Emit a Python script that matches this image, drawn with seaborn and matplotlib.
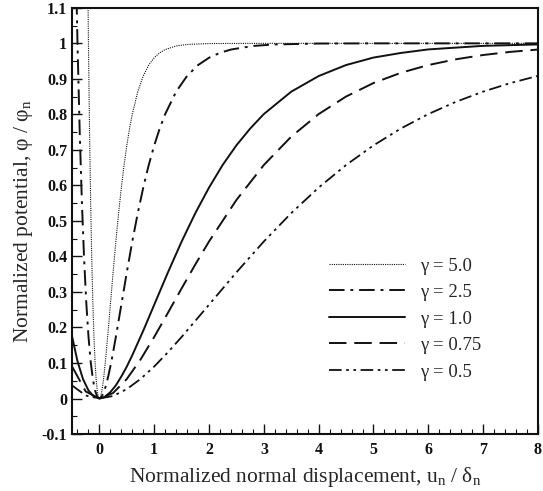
import numpy as np
import pandas as pd
import matplotlib
matplotlib.use("Agg")
import matplotlib.pyplot as plt
from matplotlib.ticker import MultipleLocator, FuncFormatter
import seaborn as sns

# ---- data ----
x_g50 = [-0.3, -0.25, -0.225, -0.2, -0.18, -0.16, -0.14, -0.12, -0.1, -0.08, -0.06, -0.04, -0.02, 0,
         0.02, 0.04, 0.06, 0.08, 0.1, 0.12, 0.15, 0.2, 0.25, 0.3, 0.35, 0.4, 0.45, 0.5, 0.55, 0.6,
         0.7, 0.8, 0.9, 1.0, 1.1, 1.2, 1.4, 1.6, 2.0, 3.0, 8.0]
y_g50 = [3.24, 1.873, 1.385, 1.0, 0.754, 0.555, 0.396, 0.271, 0.176, 0.105, 0.055, 0.023, 0.005, 0,
         0.0047, 0.0175, 0.0369, 0.0615, 0.0902, 0.1219, 0.1734, 0.2642, 0.3554, 0.4422, 0.5221, 0.594,
         0.6575, 0.7127, 0.7603, 0.8009, 0.8641, 0.9084, 0.9389, 0.9596, 0.9734, 0.9826, 0.9927, 0.997,
         0.9995, 1.0, 1.0]

x_g25 = [-0.5, -0.45, -0.4, -0.36, -0.32, -0.28, -0.24, -0.2, -0.16, -0.12, -0.08, -0.04, 0,
         0.04, 0.08, 0.12, 0.16, 0.2, 0.24, 0.3, 0.4, 0.5, 0.6, 0.7, 0.8, 0.9, 1.0, 1.1, 1.2,
         1.4, 1.6, 1.8, 2.0, 2.2, 2.4, 2.8, 3.2, 4.0, 5.0, 6.0, 8.0]
y_g25 = [1.873, 1.385, 1.0, 0.754, 0.555, 0.396, 0.271, 0.176, 0.105, 0.055, 0.023, 0.005, 0,
         0.0047, 0.0175, 0.0369, 0.0615, 0.0902, 0.1219, 0.1734, 0.2642, 0.3554, 0.4422, 0.5221,
         0.594, 0.6575, 0.7127, 0.7603, 0.8009, 0.8641, 0.9084, 0.9389, 0.9596, 0.9734, 0.9826,
         0.9927, 0.997, 0.9995, 1.0, 1.0, 1.0]

x_g10 = [-0.5, -0.4, -0.3, -0.2, -0.1, 0, 0.1, 0.2, 0.3, 0.4, 0.5, 0.6, 0.8, 1.0, 1.25, 1.5,
         1.75, 2.0, 2.25, 2.5, 2.75, 3.0, 3.5, 4.0, 4.5, 5.0, 5.5, 6.0, 7.0, 8.0]
y_g10 = [0.176, 0.105, 0.055, 0.023, 0.005, 0, 0.005, 0.018, 0.037, 0.062, 0.090, 0.122, 0.191,
         0.264, 0.355, 0.442, 0.522, 0.594, 0.658, 0.713, 0.760, 0.801, 0.864, 0.908, 0.939,
         0.960, 0.973, 0.983, 0.993, 0.997]

x_g075 = [-0.5, -0.25, 0, 0.25, 0.5, 0.75, 1.0, 1.25, 1.5, 1.75, 2.0, 2.5, 3.0, 3.5, 4.0, 4.5,
          5.0, 5.5, 6.0, 6.5, 7.0, 7.5, 8.0]
y_g075 = [0.0906, 0.0199, 0, 0.0155, 0.0550, 0.1097, 0.1734, 0.2413, 0.3101, 0.3776, 0.4422,
          0.5591, 0.6575, 0.7374, 0.8009, 0.8503, 0.8883, 0.9172, 0.9389, 0.9551, 0.9672,
          0.9761, 0.9826]

x_g05 = [-0.5, -0.25, 0, 0.25, 0.5, 0.75, 1.0, 1.25, 1.5, 2.0, 2.5, 3.0, 3.5, 4.0, 4.5, 5.0,
         5.5, 6.0, 6.5, 7.0, 7.5, 8.0]
y_g05 = [0.037, 0.0085, 0, 0.0072, 0.0265, 0.0550, 0.0902, 0.1302, 0.1734, 0.2642, 0.3554,
         0.4422, 0.5221, 0.5940, 0.6575, 0.7127, 0.7603, 0.8009, 0.8352, 0.8641, 0.8883, 0.9084]

labels = ["γ = 5.0", "γ = 2.5", "γ = 1.0", "γ = 0.75", "γ = 0.5"]
xs = [x_g50, x_g25, x_g10, x_g075, x_g05]
ys = [y_g50, y_g25, y_g10, y_g075, y_g05]

# ---- styling ----
sns.set_theme(style="ticks")
plt.rcParams["font.family"] = ["Liberation Serif", "DejaVu Serif"]
plt.rcParams["mathtext.fontset"] = "custom"
plt.rcParams["mathtext.rm"] = "Liberation Serif"
plt.rcParams["mathtext.it"] = "Liberation Serif:italic"

styles = [
    dict(linestyle=(0, (1, 1)), lw=0.8),
    dict(linestyle=(0, (8, 3, 1.5, 3)), lw=1.4),
    dict(linestyle="-", lw=1.4),
    dict(linestyle=(0, (9, 4)), lw=1.4),
    dict(linestyle=(0, (7, 2.5, 1.5, 2.5, 1.5, 2.5)), lw=1.3),
]

fig = plt.figure(figsize=(5.43, 4.91), dpi=100)
ax = fig.add_axes([0.1326, 0.116, 0.858, 0.868])

for x, y, lab, st in zip(xs, ys, labels, styles):
    df = pd.DataFrame({"x": x, "y": y})
    sns.lineplot(data=df, x="x", y="y", ax=ax, color="#111111", label=lab,
                 sort=False, estimator=None, **st)

ax.set_xlim(-0.5, 8)
ax.set_ylim(-0.1, 1.1)
ax.xaxis.set_major_locator(MultipleLocator(1))
ax.xaxis.set_minor_locator(MultipleLocator(0.2))
ax.yaxis.set_major_locator(MultipleLocator(0.1))
ax.yaxis.set_minor_locator(MultipleLocator(0.05))
ax.yaxis.set_major_formatter(FuncFormatter(lambda v, p: f"{round(v, 2):g}"))
ax.xaxis.set_major_formatter(FuncFormatter(lambda v, p: f"{round(v, 2):g}"))
ax.tick_params(which="both", direction="in", colors="#111111", labelsize=11.5)
ax.tick_params(which="major", length=7, width=1.0)
ax.tick_params(which="minor", length=3.5, width=0.8)
ax.tick_params(axis="x", which="major", pad=6)
for lbl in ax.get_xticklabels() + ax.get_yticklabels():
    lbl.set_fontweight("bold")
for sp in ax.spines.values():
    sp.set_linewidth(1.5)
    sp.set_color("#111111")
    sp.set_visible(True)

ax.set_xlabel("Normalized normal displacement, u$_{\\rm n}$ / δ$_{\\rm n}$", fontsize=15.5, labelpad=5)
ax.set_ylabel("Normalized potential, φ / φ$_{\\rm n}$", fontsize=15.5, labelpad=5)

leg = ax.legend(loc="center", bbox_to_anchor=(0.715, 0.27), frameon=False, fontsize=13.5,
                handlelength=4.05, handletextpad=0.8, labelspacing=0.5, markerfirst=True)

fig.savefig("out.png", dpi=100)
